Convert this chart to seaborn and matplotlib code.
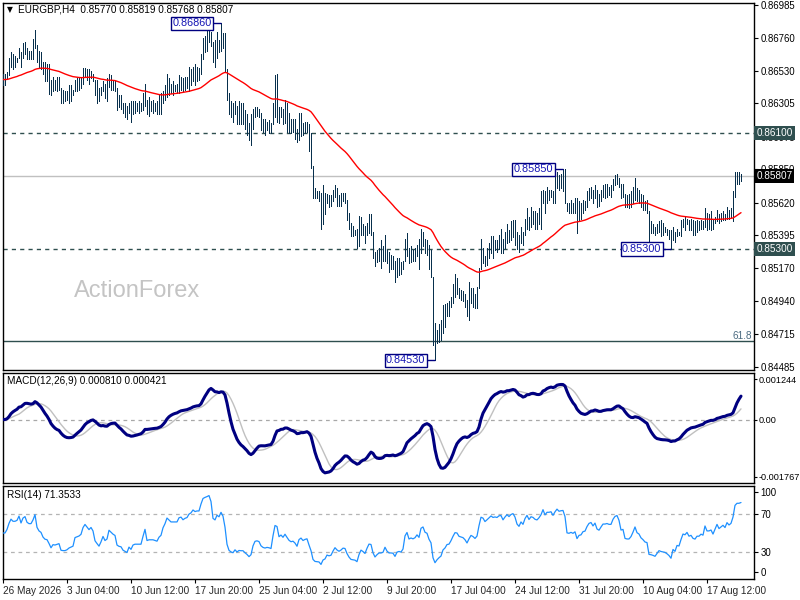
import numpy as np
import pandas as pd
import matplotlib
matplotlib.use("Agg")
import matplotlib.pyplot as plt
import matplotlib.transforms as mtransforms
import seaborn as sns

sns.set_theme(style="white")
plt.rcParams["font.family"] = ["Liberation Sans", "DejaVu Sans"]

# ---------------- data (EURGBP H4) ----------------
symbol = "EURGBP,H4"
last_ohlc = [0.85770, 0.85819, 0.85768, 0.85807]

bar_high = [
    0.8651, 0.8651, 0.8652, 0.8662, 0.8666, 0.8665, 0.8663, 0.8662, 0.8669, 0.8666,
    0.8672, 0.8673, 0.8669, 0.8667, 0.8667, 0.8675, 0.8681, 0.8671, 0.8667, 0.8666,
    0.8659, 0.8659, 0.8658, 0.8658, 0.8647, 0.8649, 0.8647, 0.8649, 0.8649, 0.8641,
    0.8640, 0.8639, 0.8639, 0.8643, 0.8643, 0.8640, 0.8647, 0.8648, 0.8648, 0.8649,
    0.8655, 0.8655, 0.8654, 0.8654, 0.8653, 0.8651, 0.8647, 0.8647, 0.8641, 0.8642,
    0.8646, 0.8644, 0.8648, 0.8651, 0.8650, 0.8647, 0.8646, 0.8641, 0.8636, 0.8636,
    0.8631,
    0.8631, 0.8629, 0.8631, 0.8632, 0.8632, 0.8632, 0.8631, 0.8632, 0.8631, 0.8638,
    0.8644, 0.8633, 0.8635, 0.8632, 0.8633, 0.8631, 0.8632, 0.8636, 0.8638, 0.8639,
    0.8643, 0.8651, 0.8648, 0.8644, 0.8646, 0.8643, 0.8644, 0.8650, 0.8649, 0.8648,
    0.8649, 0.8649, 0.8656, 0.8654, 0.8656, 0.8658, 0.8656, 0.8655, 0.8665, 0.8676,
    0.8677, 0.8681, 0.8682, 0.8680, 0.8673, 0.8674, 0.8680, 0.8674, 0.86860, 0.8679,
    0.8679, 0.8654, 0.8638, 0.8632, 0.8631, 0.8632, 0.8629, 0.8632, 0.8631, 0.8631,
    0.8626, 0.8623, 0.8617,
    0.8623, 0.8627, 0.8628, 0.8628, 0.8627, 0.8624, 0.8620, 0.8620, 0.8618, 0.8619,
    0.8617, 0.8631, 0.8650, 0.8651, 0.8628, 0.8628, 0.8627, 0.8633, 0.8631, 0.8624,
    0.8620, 0.8620, 0.8620, 0.8613, 0.8624, 0.8624, 0.8617, 0.8618, 0.8618, 0.8616,
    0.8610, 0.8587, 0.8572, 0.8570, 0.8570, 0.8569, 0.8574, 0.8569, 0.8568, 0.8567,
    0.8567, 0.8571, 0.8574, 0.8572, 0.8567, 0.8569, 0.8569, 0.8569, 0.8564, 0.8555,
    0.8548, 0.8546, 0.8543, 0.8544, 0.8553, 0.8552, 0.8547, 0.8546, 0.8548, 0.8554,
    0.8554, 0.8542,
    0.8528, 0.8529, 0.8531, 0.8536, 0.8532, 0.8540, 0.8529, 0.8528, 0.8526, 0.8525,
    0.8522, 0.8524, 0.8524, 0.8521, 0.8522, 0.8537, 0.8541, 0.8531, 0.8532, 0.8529,
    0.8531, 0.8533, 0.8537, 0.8544, 0.8542, 0.8537, 0.8536, 0.8533, 0.8529, 0.8511,
    0.8479, 0.8474, 0.8478, 0.8481, 0.8491, 0.8492, 0.8493, 0.8494, 0.8497, 0.8506,
    0.8513, 0.8510, 0.8503, 0.8502, 0.8501, 0.8499, 0.8495, 0.8507, 0.8503, 0.8503,
    0.8499, 0.8504, 0.8517, 0.8537, 0.8531, 0.8525, 0.8531, 0.8534, 0.8539, 0.8539,
    0.8536, 0.8536, 0.8540,
    0.8544, 0.8537, 0.8542, 0.8547, 0.8543, 0.8549, 0.8550, 0.8550, 0.8542, 0.8540,
    0.8545, 0.8542, 0.8551, 0.8558, 0.8552, 0.8559, 0.8556, 0.8556, 0.8555, 0.8558,
    0.8570, 0.8571, 0.8570, 0.8573, 0.8571, 0.8571, 0.8570, 0.8582, 0.8583, 0.8581,
    0.8582, 0.8585, 0.85850, 0.8562, 0.8562, 0.8564, 0.8562, 0.8565, 0.8565, 0.8563,
    0.8562, 0.8564, 0.8563, 0.8570, 0.8572, 0.8573, 0.8571, 0.8574, 0.8571, 0.8568,
    0.8571, 0.8574, 0.8575, 0.8575, 0.8573, 0.8574, 0.8578, 0.8581, 0.8582, 0.8579,
    0.8575, 0.8575,
    0.8568, 0.8567, 0.8568, 0.8570, 0.8573, 0.8579, 0.8572, 0.8571, 0.8568, 0.8567,
    0.8563, 0.8564, 0.8556, 0.8549, 0.8547, 0.8545, 0.8547, 0.8549, 0.8550, 0.8548,
    0.8545, 0.8544, 0.8543, 0.8543, 0.8545, 0.8542, 0.8544, 0.8542, 0.8550, 0.8551,
    0.8552, 0.8551, 0.8550, 0.8551, 0.8550, 0.8549, 0.8550, 0.8549, 0.8550, 0.8549,
    0.8558, 0.8555, 0.8554, 0.8556, 0.8551, 0.8552, 0.8557, 0.8554, 0.8555, 0.8556,
    0.8554, 0.8559, 0.8557, 0.8558, 0.8570, 0.8583, 0.8583, 0.8583, 0.85819,
]

bar_low = [
    0.8643, 0.8643, 0.8648, 0.8650, 0.8656, 0.8654, 0.8656, 0.8659, 0.8662, 0.8656,
    0.8662, 0.8665, 0.8661, 0.8661, 0.8661, 0.8661, 0.8669, 0.8659, 0.8656, 0.8654,
    0.8651, 0.8646, 0.8646, 0.8637, 0.8636, 0.8639, 0.8640, 0.8639, 0.8640, 0.8631,
    0.8631, 0.8632, 0.8633, 0.8631, 0.8632, 0.8636, 0.8639, 0.8639, 0.8640, 0.8641,
    0.8644, 0.8649, 0.8647, 0.8644, 0.8648, 0.8646, 0.8636, 0.8631, 0.8632, 0.8636,
    0.8639, 0.8634, 0.8632, 0.8642, 0.8640, 0.8640, 0.8639, 0.8626, 0.8628, 0.8627,
    0.8624,
    0.8621, 0.8620, 0.8624, 0.8618, 0.8623, 0.8624, 0.8625, 0.8624, 0.8625, 0.8626,
    0.8629, 0.8623, 0.8622, 0.8625, 0.8624, 0.8625, 0.8623, 0.8623, 0.8623, 0.8631,
    0.8633, 0.8635, 0.8636, 0.8638, 0.8636, 0.8639, 0.8638, 0.8638, 0.8640, 0.8639,
    0.8640, 0.8641, 0.8639, 0.8643, 0.8646, 0.8643, 0.8646, 0.8647, 0.8651, 0.8661,
    0.8666, 0.8667, 0.8673, 0.8670, 0.8659, 0.8656, 0.8662, 0.8666, 0.8667, 0.8669,
    0.8652, 0.8633, 0.8623, 0.8621, 0.8618, 0.8623, 0.8616, 0.8616, 0.8616, 0.8616,
    0.8613, 0.8609, 0.8605,
    0.8602, 0.8613, 0.8621, 0.8622, 0.8621, 0.8612, 0.8611, 0.8609, 0.8612, 0.8610,
    0.8610, 0.8616, 0.8621, 0.8618, 0.8617, 0.8621, 0.8616, 0.8617, 0.8611, 0.8610,
    0.8610, 0.8611, 0.8606, 0.8604, 0.8605, 0.8608, 0.8609, 0.8610, 0.8611, 0.8598,
    0.8586, 0.8565, 0.8565, 0.8565, 0.8563, 0.8544, 0.8547, 0.8554, 0.8562, 0.8559,
    0.8560, 0.8563, 0.8566, 0.8560, 0.8560, 0.8560, 0.8563, 0.8562, 0.8550, 0.8544,
    0.8539, 0.8539, 0.8540, 0.8531, 0.8532, 0.8540, 0.8540, 0.8534, 0.8540, 0.8541,
    0.8540, 0.8524,
    0.8518, 0.8521, 0.8522, 0.8517, 0.8522, 0.8522, 0.8520, 0.8514, 0.8516, 0.8516,
    0.8507, 0.8511, 0.8512, 0.8513, 0.8516, 0.8522, 0.8525, 0.8520, 0.8521, 0.8522,
    0.8522, 0.8525, 0.8516, 0.8527, 0.8532, 0.8527, 0.8526, 0.8516, 0.8511, 0.8464,
    0.84530, 0.8465, 0.8466, 0.8467, 0.8472, 0.8476, 0.8484, 0.8484, 0.8490, 0.8493,
    0.8497, 0.8499, 0.8496, 0.8495, 0.8494, 0.8490, 0.8484, 0.8481, 0.8493, 0.8490,
    0.8489, 0.8489, 0.8503, 0.8516, 0.8520, 0.8518, 0.8519, 0.8524, 0.8527, 0.8524,
    0.8529, 0.8528, 0.8530,
    0.8527, 0.8527, 0.8531, 0.8534, 0.8535, 0.8536, 0.8538, 0.8533, 0.8530, 0.8528,
    0.8534, 0.8533, 0.8540, 0.8544, 0.8543, 0.8545, 0.8547, 0.8544, 0.8544, 0.8547,
    0.8544, 0.8562, 0.8555, 0.8562, 0.8564, 0.8566, 0.8562, 0.8562, 0.8572, 0.8571,
    0.8572, 0.8570, 0.8562, 0.8556, 0.8555, 0.8555, 0.8555, 0.8555, 0.8541, 0.8549,
    0.8551, 0.8555, 0.8557, 0.8559, 0.8564, 0.8565, 0.8562, 0.8565, 0.8559, 0.8560,
    0.8563, 0.8566, 0.8565, 0.8566, 0.8567, 0.8566, 0.8571, 0.8574, 0.8575, 0.8573,
    0.8565, 0.8566,
    0.8559, 0.8559, 0.8558, 0.8559, 0.8562, 0.8564, 0.8563, 0.8562, 0.8559, 0.8557,
    0.8557, 0.8555, 0.8535, 0.8541, 0.8541, 0.8540, 0.8541, 0.8542, 0.8539, 0.8540,
    0.8542, 0.8540, 0.8537, 0.85300, 0.8536, 0.8535, 0.8539, 0.8540, 0.8539, 0.8545,
    0.8543, 0.8547, 0.8543, 0.8543, 0.8540, 0.8540, 0.8542, 0.8543, 0.8544, 0.8544,
    0.8545, 0.8543, 0.8544, 0.8543, 0.8544, 0.8548, 0.8549, 0.8548, 0.8549, 0.8550,
    0.8550, 0.8551, 0.8551, 0.8552, 0.8549, 0.8566, 0.8575, 0.8575, 0.85768,
]

time_labels = ["26 May 2026", "3 Jun 04:00", "10 Jun 12:00", "17 Jun 20:00",
               "25 Jun 04:00", "2 Jul 12:00", "9 Jul 20:00", "17 Jul 04:00",
               "24 Jul 12:00", "31 Jul 20:00", "10 Aug 04:00", "17 Aug 12:00"]
bars_per_label = 32

price_ticks = [0.86985, 0.86760, 0.86530, 0.86305, 0.86075, 0.85850,
               0.85620, 0.85395, 0.85170, 0.84940, 0.84715, 0.84485]
level_lines = [0.86100, 0.85300]          # dashed support / resistance
fib_level = 0.84665                       # 61.8 retracement line
fib_text = "61.8"
macd_ticks = [0.001244, 0.0, -0.001767]
macd_tick_labels = ["0.001244", "0.00", "-0.001767"]
macd_header = "MACD(12,26,9) 0.000810 0.000421"
rsi_levels = [70, 30]
rsi_tick_labels = ["100", "70", "30", "0"]
rsi_header = "RSI(14) 71.3533"

# ---------------- derived series ----------------
hi = np.array(bar_high)
lo = np.array(bar_low)
n = len(hi)
idx = np.arange(n)
close = pd.Series((hi + lo) / 2.0)
close.iloc[-1] = last_ohlc[3]

ma = close.ewm(span=55, adjust=False).mean()
ema12 = close.ewm(span=12, adjust=False).mean()
ema26 = close.ewm(span=26, adjust=False).mean()
macd = ema12 - ema26
signal = macd.rolling(9, min_periods=1).mean()

# Wilder RSI, seeded neutrally (as if history existed before the window)
d = close.diff().fillna(0).values
ag = al = np.abs(d).mean() / 2
rsi_vals = []
for v in d:
    ag = (ag * 13 + max(v, 0.0)) / 14
    al = (al * 13 + max(-v, 0.0)) / 14
    rsi_vals.append(100 - 100 / (1 + ag / al))
rsi = np.array(rsi_vals)

# ---------------- layout ----------------
W, H = 800, 600
fig = plt.figure(figsize=(8, 6), dpi=100)
fig.patch.set_facecolor("white")


def pos(top, bot, left=2.5, right=754):
    return [left / W, 1 - bot / H, (right - left) / W, (bot - top) / H]


ax_p = fig.add_axes(pos(2.5, 369.5))
ax_m = fig.add_axes(pos(372.5, 482.5))
ax_r = fig.add_axes(pos(485.5, 579))

px_per_bar = 2.0
x0 = -(3 - 2.5) / px_per_bar
x1 = x0 + (754 - 2.5) / px_per_bar

navy = "#000080"
slate = "#2F4F4F"
bar_col = "#08304D"
FS = 7.2
FT = 6.9

for ax in (ax_p, ax_m, ax_r):
    ax.set_facecolor("white")
    ax.set_xlim(x0, x1)
    for s in ax.spines.values():
        s.set_color("black")
        s.set_linewidth(1)
    ax.yaxis.tick_right()
    ax.tick_params(axis="y", which="both", right=True, left=False, length=3,
                   width=0.8, color="black", labelsize=FT, pad=1.5,
                   labelcolor="black")
    ax.grid(False)
    ax.set_xlabel("")
    ax.set_ylabel("")

# ---------------- price panel ----------------
ax_p.set_ylim(0.86985 - 364.5 / 14480, 0.86985 + 2.5 / 14480)
ax_p.vlines(idx, lo, hi, color=bar_col, lw=0.5, antialiased=False, zorder=3)
sns.lineplot(x=idx, y=ma.values, ax=ax_p, color="#FF0000", lw=1.0,
             legend=False, errorbar=None, zorder=4)

for lv in level_lines:
    ax_p.axhline(lv, color=slate, lw=1.0, dashes=(3, 3), zorder=2)
ax_p.axhline(last_ohlc[3], color="#C0C0C0", lw=1.0, zorder=1)
ax_p.axhline(fib_level, color=slate, lw=1.0, zorder=2)

ax_p.set_yticks(price_ticks)
ax_p.set_yticklabels([f"{t:.5f}" for t in price_ticks])
ax_p.set_xticks([])

trans_p = mtransforms.blended_transform_factory(ax_p.transAxes, ax_p.transData)
for lv in level_lines:
    ax_p.text(1.003, lv, f"{lv:.5f}", transform=trans_p, ha="left", va="center",
              fontsize=FT + 0.3, color="white", zorder=10, clip_on=False,
              bbox=dict(boxstyle="square,pad=0.2", fc=slate, ec="none"))
ax_p.text(1.003, last_ohlc[3], f"{last_ohlc[3]:.5f}", transform=trans_p,
          ha="left", va="center", fontsize=FT + 0.3, color="white", zorder=11,
          clip_on=False, bbox=dict(boxstyle="square,pad=0.2", fc="black", ec="none"))
ax_p.text(0.997, fib_level + 0.00003, fib_text, transform=trans_p, ha="right",
          va="bottom", fontsize=FS, color="#4A6A80", zorder=6)


def mark(i, value):
    ax_p.plot([i - 4.6, i], [value, value], color=navy, lw=1.0, zorder=7,
              solid_capstyle="butt")
    ax_p.text(i - 4.8, value, f"{value:.5f}", ha="right", va="center",
              fontsize=7.8, color="#1414B4", zorder=8,
              bbox=dict(boxstyle="square,pad=0.14", fc="white", ec=navy, lw=1.0))


i_top = int(np.argmax(hi))
i_bot = int(np.argmin(lo))
i_h2 = 250 + int(np.argmax(hi[250:320]))
i_l2 = 320 + int(np.argmin(lo[320:360]))
for i, v in [(i_top, hi[i_top]), (i_bot, lo[i_bot]), (i_h2, hi[i_h2]), (i_l2, lo[i_l2])]:
    mark(i, v)

head = f"{symbol}  " + " ".join(f"{v:.5f}" for v in last_ohlc)
ax_p.text(0.0062, 0.981, "\u25BC", transform=ax_p.transAxes, fontsize=5.5,
          ha="left", va="center", color="black", zorder=9,
          family=["DejaVu Sans"])
ax_p.text(0.0205, 0.981, head, transform=ax_p.transAxes, fontsize=FS,
          ha="left", va="center", color="black", zorder=9)
ax_p.text(0.095, 0.214, "ActionForex", transform=ax_p.transAxes, fontsize=17,
          ha="left", va="center", color="#C4C4C4", zorder=1)

# ---------------- MACD panel ----------------
k_m = 32300.0
ax_m.set_ylim(-0.001767 - 5.8 / k_m, 0.001244 + 6.8 / k_m)
ax_m.axhline(0, color="#A8A8A8", lw=0.9, dashes=(3, 3), zorder=1)
sns.lineplot(x=idx, y=signal.values, ax=ax_m, color="#C0C0C0", lw=1.0,
             legend=False, errorbar=None, zorder=2)
sns.lineplot(x=idx, y=macd.values, ax=ax_m, color=navy, lw=2.2,
             legend=False, errorbar=None, zorder=3)
ax_m.set_yticks(macd_ticks)
ax_m.set_yticklabels(macd_tick_labels)
ax_m.tick_params(axis="y", labelsize=6.6, pad=1.0, length=2.5)
ax_m.set_xticks([])
ax_m.text(0.0065, 0.92, macd_header, transform=ax_m.transAxes, fontsize=FS,
          ha="left", va="center", color="black")

# ---------------- RSI panel ----------------
ax_r.set_ylim(30 - 27.3 / 0.935, 70 + 28.8 / 0.935)
for lv in rsi_levels:
    ax_r.axhline(lv, color="#B4B4B4", lw=0.9, dashes=(3, 3), zorder=1)
sns.lineplot(x=idx, y=rsi, ax=ax_r, color="#1E90FF", lw=0.9,
             legend=False, errorbar=None, zorder=3)
ax_r.set_yticks([70 + 22 / 0.935, 70, 30, 30 - 20.6 / 0.935])
ax_r.set_yticklabels(rsi_tick_labels)
ax_r.text(0.0065, 0.90, rsi_header, transform=ax_r.transAxes, fontsize=FS,
          ha="left", va="center", color="black")

xt = [k * bars_per_label for k in range(len(time_labels))]
ax_r.set_xticks(xt)
ax_r.set_xticklabels(time_labels)
ax_r.tick_params(axis="x", bottom=True, length=3, width=0.8, color="black",
                 labelsize=FS, pad=2)
for lbl in ax_r.get_xticklabels():
    lbl.set_horizontalalignment("left")

fig.savefig("out.png", dpi=100, facecolor="white")
